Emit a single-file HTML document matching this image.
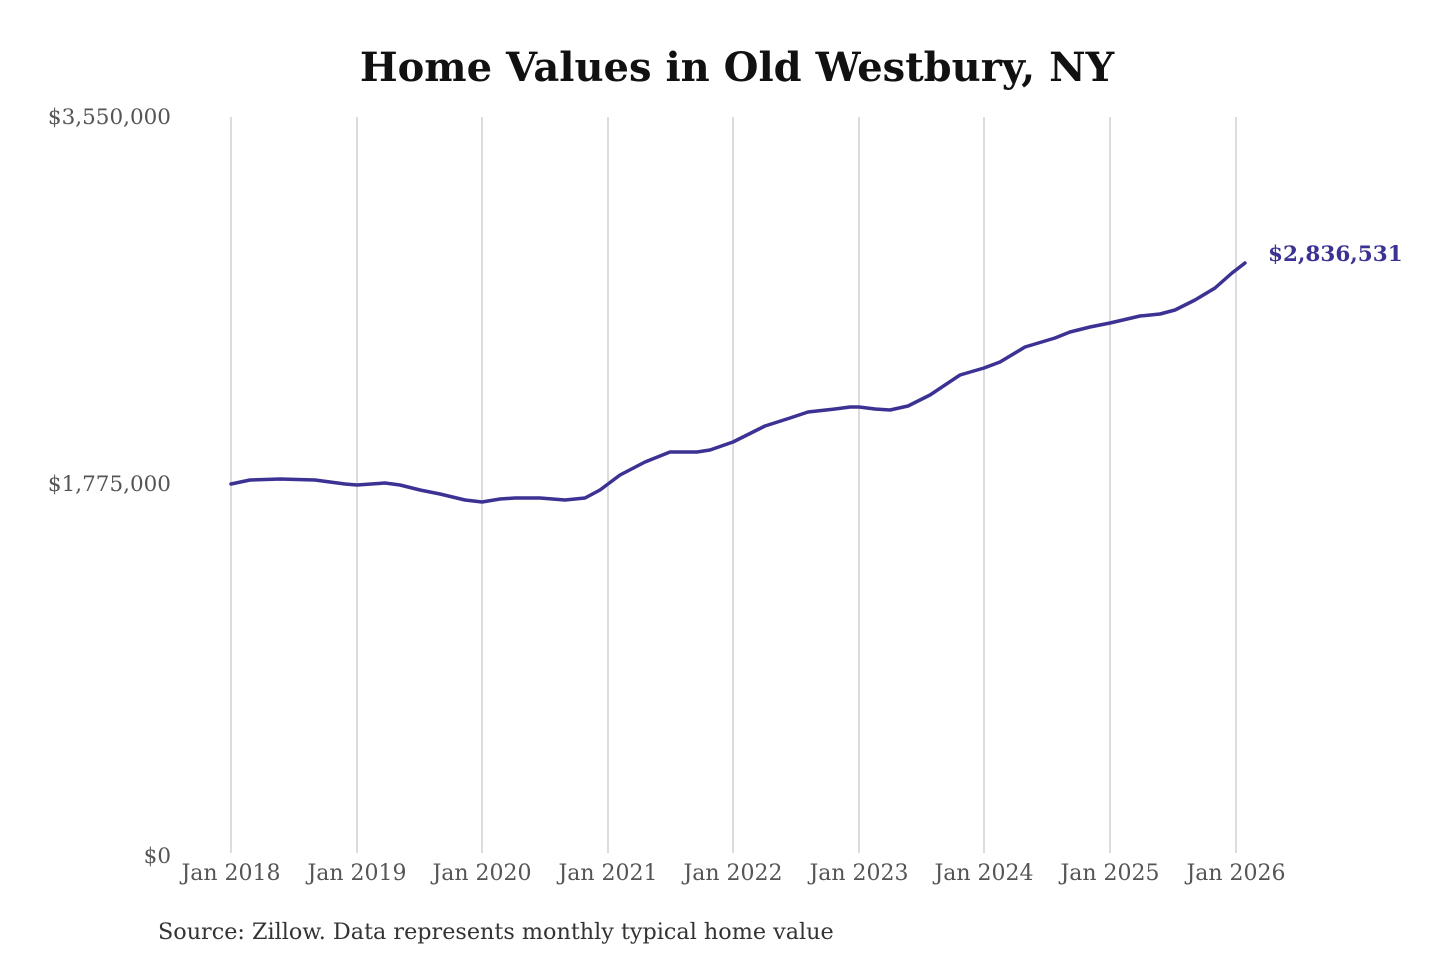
<!DOCTYPE html>
<html><head><meta charset="utf-8"><style>
html,body{margin:0;padding:0;background:#fff;}
svg{display:block;}
</style></head><body>
<svg width="1440" height="960" xmlns="http://www.w3.org/2000/svg" font-family="'DejaVu Serif','Liberation Serif',serif">
<text x="737" y="81" text-anchor="middle" font-size="40" font-weight="bold" fill="#111">Home Values in Old Westbury, NY</text>
<g stroke="#c4c4c4" stroke-width="1.2">
<line x1="231" y1="117" x2="231" y2="853"/><line x1="357" y1="117" x2="357" y2="853"/>
<line x1="482" y1="117" x2="482" y2="853"/><line x1="608" y1="117" x2="608" y2="853"/>
<line x1="733" y1="117" x2="733" y2="853"/><line x1="859" y1="117" x2="859" y2="853"/>
<line x1="984" y1="117" x2="984" y2="853"/><line x1="1110" y1="117" x2="1110" y2="853"/>
<line x1="1236" y1="117" x2="1236" y2="853"/>
</g>
<g font-size="21.5" fill="#555" text-anchor="end">
<text x="171" y="124">$3,550,000</text>
<text x="171" y="491">$1,775,000</text>
<text x="171" y="863">$0</text>
</g>
<g font-size="22" fill="#555" text-anchor="middle">
<text x="231" y="880">Jan 2018</text><text x="357" y="880">Jan 2019</text>
<text x="482" y="880">Jan 2020</text><text x="608" y="880">Jan 2021</text>
<text x="733" y="880">Jan 2022</text><text x="859" y="880">Jan 2023</text>
<text x="984" y="880">Jan 2024</text><text x="1110" y="880">Jan 2025</text>
<text x="1236" y="880">Jan 2026</text>
</g>
<text x="158" y="939" font-size="22.3" fill="#333">Source: Zillow. Data represents monthly typical home value</text>
<polyline fill="none" stroke="#3b3294" stroke-width="3.5" stroke-linejoin="round" stroke-linecap="round"
points="231,484 250,480 280,479 315,480 345,484 357,485 385,483 400,485 420,490 440,494 465,500 482,502 500,499 515,498 540,498 565,500 585,498 600,490 620,475 645,462 670,452 697,452 710,450 733,442 745,436 765,426 790,418 808,412 835,409 850,407 859,407 875,409 890,410 908,406 930,395 960,375 984,368 1000,362 1025,347 1055,338 1070,332 1090,327 1110,323 1140,316 1160,314 1175,310 1195,300 1215,288 1232,273 1245,263"/>
<text x="1268" y="261" font-size="21.5" font-weight="bold" fill="#3b3294">$2,836,531</text>
</svg>
</body></html>
